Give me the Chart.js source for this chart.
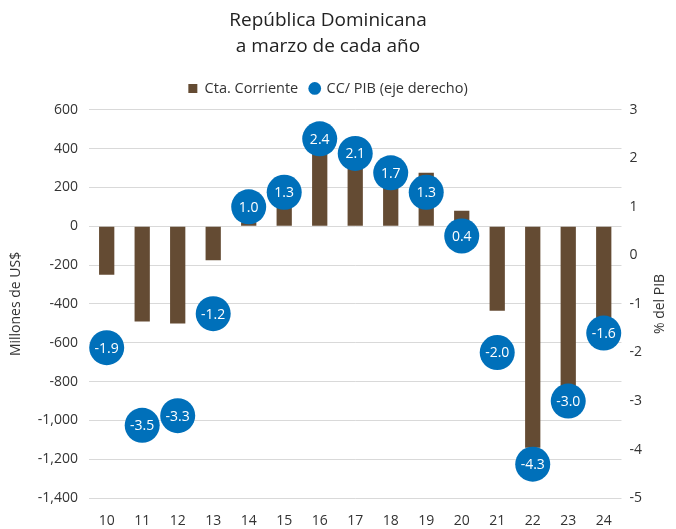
<!DOCTYPE html>
<html>
<head>
<meta charset="utf-8">
<script src="https://cdn.jsdelivr.net/npm/chart.js@4.4.1/dist/chart.umd.min.js"></script>
<style>
  html, body { margin: 0; padding: 0; background: #fff; }
  #wrap { width: 676px; height: 529px; }
</style>
</head>
<body>
<div id="wrap"><canvas id="ccChart"></canvas></div>
<script>
const years = ['10', '11', '12', '13', '14', '15', '16', '17', '18', '19', '20', '21', '22', '23', '24'];
// Cta. Corriente, millones de US$
const ctaCorriente = [-250, -490, -500, -175, 20, 130, 390, 320, 230, 275, 80, -435, -1140, -850, -480];
// CC / PIB, % (eje derecho)
const ccPib = [-1.9, -3.5, -3.3, -1.2, 1.0, 1.3, 2.4, 2.1, 1.7, 1.3, 0.4, -2.0, -4.3, -3.0, -1.6];

const fontFam = "'Open Sans', 'DejaVu Sans', sans-serif";

// white value labels inside the blue circles
const bubbleLabels = {
    id: 'bubbleLabels',
    afterDatasetsDraw(chart) {
        const ctx = chart.ctx;
        const meta = chart.getDatasetMeta(1);
        ctx.save();
        ctx.fillStyle = '#ffffff';
        ctx.font = '14px ' + fontFam;
        ctx.textAlign = 'center';
        ctx.textBaseline = 'middle';
        meta.data.forEach((pt, i) => {
            ctx.fillText(ccPib[i].toFixed(1), pt.x, pt.y + 1);
        });
        ctx.restore();
    }
};

// right axis title reads bottom-to-top like the left one
const rightTitle = {
    id: 'rightTitle',
    afterDraw(chart) {
        const ctx = chart.ctx;
        const area = chart.chartArea;
        ctx.save();
        ctx.translate(chart.width - 16, (area.top + area.bottom) / 2);
        ctx.rotate(-Math.PI / 2);
        ctx.fillStyle = '#333';
        ctx.font = '14px ' + fontFam;
        ctx.textAlign = 'center';
        ctx.textBaseline = 'middle';
        ctx.fillText('% del PIB', 0, 0);
        ctx.restore();
    }
};

// a bit more room between legend and plot
const legendGap = {
    id: 'legendGap',
    beforeInit(chart) {
        const fit = chart.legend.fit;
        chart.legend.fit = function () {
            fit.bind(chart.legend)();
            this.height += 4;
        };
    }
};

const ctx = document.getElementById('ccChart').getContext('2d');
new Chart(ctx, {
    type: 'bar',
    data: {
        labels: years,
        datasets: [
            {
                label: 'Cta. Corriente',
                data: ctaCorriente,
                backgroundColor: '#644b33',
                barPercentage: 0.43,
                categoryPercentage: 1,
                pointStyle: 'rect',
                yAxisID: 'y',
                order: 2
            },
            {
                type: 'line',
                label: 'CC/ PIB (eje derecho)',
                data: ccPib,
                showLine: false,
                pointRadius: 17.5,
                pointHoverRadius: 17.5,
                pointBorderWidth: 0,
                backgroundColor: '#0070ba',
                borderColor: '#0070ba',
                pointStyle: 'circle',
                yAxisID: 'y1',
                order: 1
            }
        ]
    },
    options: {
        responsive: true,
        maintainAspectRatio: false,
        animation: false,
        layout: { padding: { left: 6, right: 26, bottom: -6, top: 7 } },
        plugins: {
            title: {
                display: true,
                text: ['República Dominicana', 'a marzo de cada año'],
                color: '#222',
                font: { family: fontFam, size: 19, weight: 'normal', lineHeight: 1.4 },
                padding: { top: 0, bottom: 9 }
            },
            legend: {
                position: 'top',
                labels: {
                    usePointStyle: true,
                    boxWidth: 9,
                    boxHeight: 9,
                    color: '#333',
                    font: { family: fontFam, size: 14.5 },
                    padding: 12,
                    sort: (a, b) => a.datasetIndex - b.datasetIndex
                }
            },
            tooltip: { enabled: false }
        },
        scales: {
            x: {
                grid: { display: false },
                border: { display: false },
                ticks: { color: '#333', padding: 6, font: { family: fontFam, size: 14 } }
            },
            y: {
                position: 'left',
                min: -1400,
                max: 600,
                ticks: { stepSize: 200, color: '#333', padding: 11, font: { family: fontFam, size: 14 } },
                grid: { color: '#d9d9d9', drawTicks: false },
                border: { display: false },
                title: { display: true, text: 'Millones de US$', color: '#333', padding: 2, font: { family: fontFam, size: 14 } }
            },
            y1: {
                position: 'right',
                min: -5,
                max: 3,
                ticks: { stepSize: 1, color: '#333', padding: 8, font: { family: fontFam, size: 14 } },
                grid: { drawOnChartArea: false, drawTicks: false },
                border: { display: false }
            }
        }
    },
    plugins: [bubbleLabels, rightTitle, legendGap]
});
</script>
</body>
</html>
